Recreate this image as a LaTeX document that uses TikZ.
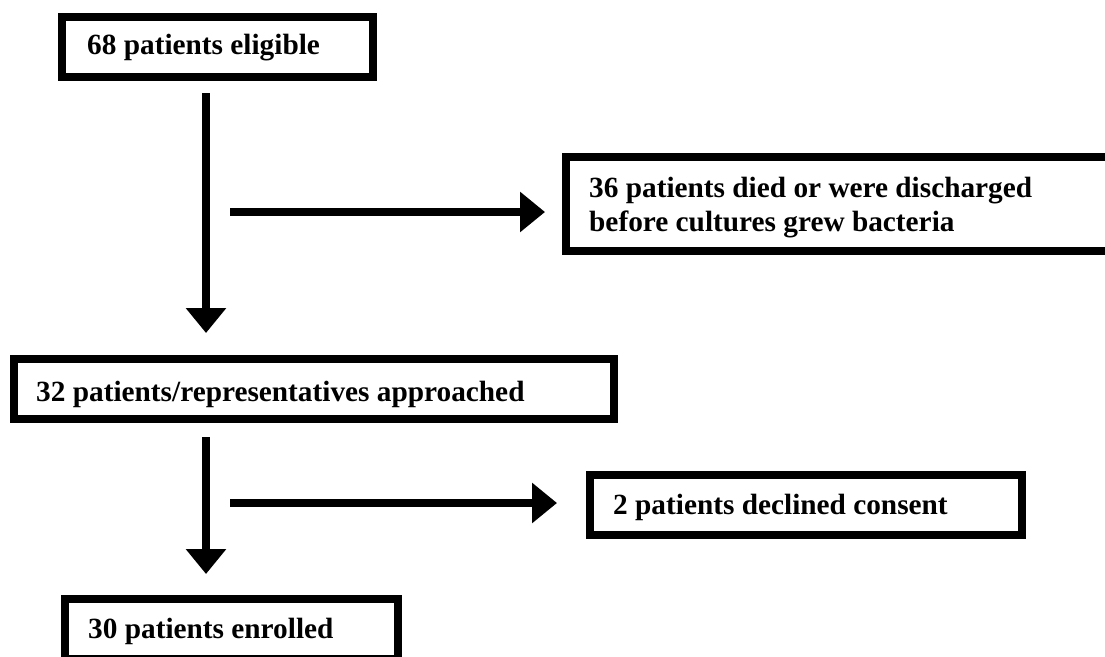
\documentclass[tikz,border=0pt]{standalone}
\usepackage{fontspec}
\setmainfont{Liberation Serif}
\usetikzlibrary{arrows.meta}
\tikzset{
  box/.style={draw=black, line width=8pt, fill=none, inner sep=0pt},
  txt/.style={inner sep=0pt, font=\fontsize{29.3}{34}\selectfont\bfseries, align=left, anchor=base west},
  arr/.style={line width=8pt, -{Triangle[width=39pt,length=25pt]}}
}
\begin{document}
\begin{tikzpicture}[x=1pt,y=-1pt]
\useasboundingbox (0,0) rectangle (1105,656);
\clip (0,0) rectangle (1105,656);
% boxes
\node[box, minimum width=311pt, minimum height=60pt] (b1) at (217.5,47) {};
\node[box, minimum width=545pt, minimum height=94pt] (b2) at (838.5,204) {};
\node[box, minimum width=600pt, minimum height=60pt] (b3) at (314,389) {};
\node[box, minimum width=432pt, minimum height=60pt] (b4) at (806,505) {};
\node[box, minimum width=333pt, minimum height=60pt] (b5) at (231.5,629) {};
% texts
\node[txt] (t1) at (87,54) {68 patients eligible};
\node[txt] (t2) at (589,231) {36 patients died or were discharged\\before cultures grew bacteria};
\node[txt] (t3) at (36,401) {32 patients/representatives approached};
\node[txt] (t4) at (613,514) {2 patients declined consent};
\node[txt] (t5) at (88,638) {30 patients enrolled};
% connector end points
\coordinate (v1s) at (206,93);
\coordinate (v1e) at (206,333);
\coordinate (h1s) at (230,212);
\coordinate (h1e) at (545,212);
\coordinate (v2s) at (206,437);
\coordinate (v2e) at (206,574);
\coordinate (h2s) at (230,503);
\coordinate (h2e) at (557,503);
\draw[arr] (v1s) -- (v1e);
\draw[arr] (h1s) -- (h1e);
\draw[arr] (v2s) -- (v2e);
\draw[arr] (h2s) -- (h2e);
\end{tikzpicture}
\end{document}
